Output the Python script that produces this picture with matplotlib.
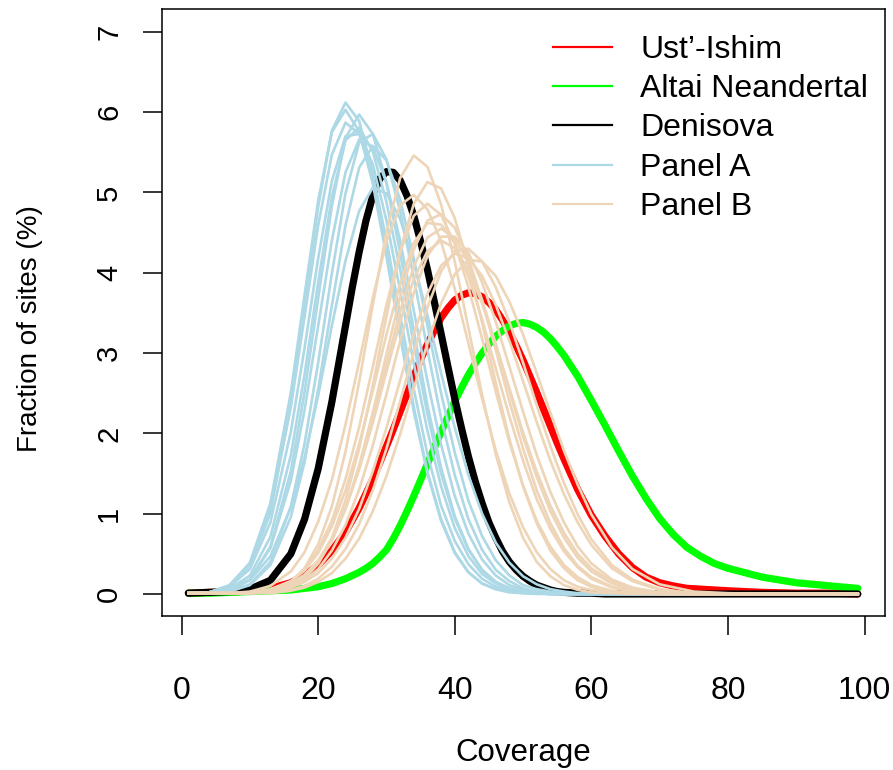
import matplotlib.pyplot as plt

# coverage values at which the panel distributions are tabulated
coverage = [1, 4, 7, 10, 13, 16, 18, 20, 22, 24, 26, 28, 30, 32, 34, 36, 38, 40, 42,
            44, 46, 48, 50, 52, 54, 56, 58, 60, 63, 66, 70, 75, 80, 85, 90, 95, 99]
# finer grid for the three single-genome curves
cov_main = [1, 4, 7, 10, 13, 16, 18, 20, 22,
            24, 25, 26, 27, 28, 29, 30, 31, 32, 33, 34, 35, 36, 37, 38, 39, 40,
            41, 42, 43, 44, 45, 46, 47, 48, 49, 50, 51, 52, 53, 54, 55, 56,
            58, 60, 62, 64, 66, 68, 70, 72, 74, 76, 78, 80,
            85, 90, 95, 99]

# fraction of sites (%) at each coverage
ust_ishim = [0.01, 0.02, 0.02, 0.04, 0.07, 0.14, 0.23, 0.36, 0.54,
             0.77, 0.92, 1.07, 1.25, 1.43, 1.63, 1.84, 2.05, 2.27, 2.49, 2.71, 2.92, 3.11,
             3.28, 3.44, 3.56, 3.66, 3.72, 3.75, 3.74, 3.70, 3.63, 3.54, 3.41, 3.26, 3.09,
             2.91, 2.71, 2.51, 2.30, 2.09, 1.88, 1.68,
             1.30, 0.98, 0.72, 0.50, 0.33, 0.21, 0.14, 0.10, 0.07, 0.06, 0.05, 0.04,
             0.02, 0.01, 0.01, 0.00]
altai = [0.01, 0.01, 0.02, 0.03, 0.04, 0.05, 0.07, 0.09, 0.13,
         0.19, 0.23, 0.27, 0.32, 0.38, 0.46, 0.55, 0.69, 0.85, 1.03, 1.22, 1.42, 1.62,
         1.82, 2.02, 2.21, 2.40, 2.57, 2.73, 2.87, 3.00, 3.11, 3.21, 3.28, 3.34, 3.37,
         3.38, 3.36, 3.32, 3.26, 3.18, 3.08, 2.97,
         2.71, 2.41, 2.10, 1.78, 1.47, 1.19, 0.94, 0.74, 0.58, 0.47, 0.38, 0.32,
         0.21, 0.14, 0.10, 0.07]
denisova = [0.01, 0.02, 0.03, 0.06, 0.17, 0.50, 0.93, 1.56, 2.39,
            3.34, 3.82, 4.26, 4.65, 4.96, 5.17, 5.26, 5.25, 5.15, 4.96, 4.71, 4.39, 4.04,
            3.64, 3.24, 2.83, 2.43, 2.06, 1.71, 1.40, 1.13, 0.89, 0.70, 0.53, 0.40, 0.30,
            0.22, 0.16, 0.11, 0.08, 0.05, 0.03, 0.02,
            0.01, 0.01, 0.00, 0.00, 0.00, 0.00, 0.00, 0.00, 0.00, 0.00, 0.00, 0.00,
            0.00, 0.00, 0.00, 0.00]

panel_a = [
    [0.01, 0.02, 0.08, 0.33, 1.01, 2.36, 3.59, 4.82, 5.77, 6.12, 5.89, 5.24, 4.33, 3.31, 2.33, 1.52, 0.93, 0.52, 0.27,
     0.13, 0.06, 0.02, 0.01, 0.01, 0, 0, 0, 0, 0, 0, 0, 0, 0, 0, 0, 0, 0],
    [0.01, 0.02, 0.10, 0.39, 1.13, 2.51, 3.72, 4.90, 5.75, 6.03, 5.76, 5.11, 4.20, 3.21, 2.27, 1.50, 0.91, 0.51, 0.27,
     0.13, 0.06, 0.03, 0.01, 0, 0, 0, 0, 0, 0, 0, 0, 0, 0, 0, 0, 0, 0],
    [0.01, 0.01, 0.04, 0.18, 0.59, 1.53, 2.51, 3.68, 4.83, 5.68, 5.97, 5.73, 5.12, 4.25, 3.28, 2.35, 1.57, 0.97, 0.56,
     0.30, 0.15, 0.07, 0.03, 0.01, 0, 0, 0, 0, 0, 0, 0, 0, 0, 0, 0, 0, 0],
    [0.01, 0.02, 0.11, 0.38, 1.06, 2.33, 3.45, 4.59, 5.47, 5.87, 5.73, 5.21, 4.41, 3.47, 2.55, 1.74, 1.10, 0.66, 0.37,
     0.19, 0.09, 0.04, 0.02, 0.01, 0, 0, 0, 0, 0, 0, 0, 0, 0, 0, 0, 0, 0],
    [0.01, 0.01, 0.06, 0.23, 0.71, 1.73, 2.73, 3.88, 4.94, 5.65, 5.81, 5.51, 4.88, 4.04, 3.11, 2.24, 1.50, 0.94, 0.55,
     0.30, 0.15, 0.07, 0.03, 0.01, 0, 0, 0, 0, 0, 0, 0, 0, 0, 0, 0, 0, 0],
    [0.01, 0.01, 0.03, 0.12, 0.40, 1.09, 1.87, 2.88, 3.99, 4.99, 5.62, 5.73, 5.41, 4.77, 3.94, 3.04, 2.19, 1.48, 0.93,
     0.55, 0.30, 0.16, 0.07, 0.03, 0.01, 0, 0, 0, 0, 0, 0, 0, 0, 0, 0, 0, 0],
    [0.01, 0.01, 0.05, 0.18, 0.57, 1.41, 2.29, 3.34, 4.40, 5.25, 5.66, 5.57, 5.12, 4.40, 3.53, 2.65, 1.86, 1.22, 0.75,
     0.43, 0.23, 0.11, 0.05, 0.02, 0.01, 0, 0, 0, 0, 0, 0, 0, 0, 0, 0, 0, 0],
    [0.01, 0.01, 0.03, 0.11, 0.36, 0.96, 1.64, 2.55, 3.59, 4.59, 5.31, 5.58, 5.40, 4.91, 4.18, 3.34, 2.50, 1.76, 1.16,
     0.72, 0.42, 0.23, 0.11, 0.06, 0.03, 0.01, 0, 0, 0, 0, 0, 0, 0, 0, 0, 0, 0],
    [0.01, 0.02, 0.09, 0.31, 0.89, 2.02, 3.06, 4.18, 5.14, 5.70, 5.73, 5.35, 4.65, 3.78, 2.87, 2.03, 1.34, 0.82, 0.47,
     0.25, 0.13, 0.06, 0.02, 0.01, 0, 0, 0, 0, 0, 0, 0, 0, 0, 0, 0, 0, 0],
    [0.01, 0.01, 0.05, 0.17, 0.47, 1.08, 1.70, 2.47, 3.34, 4.15, 4.77, 5.06, 4.99, 4.67, 4.13, 3.47, 2.75, 2.07, 1.48,
     1.00, 0.64, 0.39, 0.22, 0.12, 0.06, 0.03, 0.01, 0, 0, 0, 0, 0, 0, 0, 0, 0, 0],
]

panel_b = [
    [0.01, 0.01, 0.01, 0.01, 0.04, 0.15, 0.32, 0.62, 1.09, 1.77, 2.64, 3.60, 4.51, 5.18, 5.46, 5.32, 4.85, 4.14, 3.31,
     2.48, 1.74, 1.14, 0.70, 0.40, 0.22, 0.11, 0.05, 0.02, 0.01, 0, 0, 0, 0, 0, 0, 0, 0],
    [0.01, 0.01, 0.01, 0.01, 0.03, 0.09, 0.19, 0.38, 0.70, 1.17, 1.81, 2.60, 3.46, 4.27, 4.86, 5.13, 5.05, 4.68, 4.09,
     3.38, 2.63, 1.93, 1.34, 0.88, 0.54, 0.32, 0.17, 0.09, 0.03, 0.01, 0, 0, 0, 0, 0, 0, 0],
    [0.01, 0.01, 0.01, 0.03, 0.10, 0.28, 0.52, 0.90, 1.42, 2.11, 2.89, 3.69, 4.39, 4.84, 4.97, 4.79, 4.39, 3.80, 3.12,
     2.43, 1.79, 1.25, 0.83, 0.52, 0.31, 0.17, 0.09, 0.05, 0.02, 0.01, 0, 0, 0, 0, 0, 0, 0],
    [0.01, 0.01, 0.01, 0.01, 0.05, 0.16, 0.30, 0.55, 0.91, 1.43, 2.08, 2.83, 3.60, 4.26, 4.71, 4.86, 4.72, 4.36, 3.82,
     3.18, 2.52, 1.89, 1.35, 0.91, 0.59, 0.36, 0.21, 0.11, 0.04, 0.01, 0, 0, 0, 0, 0, 0, 0],
    [0.01, 0.01, 0.01, 0.01, 0.03, 0.11, 0.21, 0.38, 0.66, 1.06, 1.60, 2.26, 2.99, 3.70, 4.29, 4.65, 4.73, 4.56, 4.18,
     3.65, 3.04, 2.40, 1.81, 1.29, 0.88, 0.57, 0.35, 0.21, 0.09, 0.03, 0.01, 0, 0, 0, 0, 0, 0],
    [0.01, 0.01, 0.01, 0.02, 0.06, 0.16, 0.29, 0.51, 0.84, 1.29, 1.87, 2.53, 3.23, 3.87, 4.37, 4.62, 4.60, 4.37, 3.95,
     3.42, 2.81, 2.21, 1.66, 1.18, 0.81, 0.53, 0.33, 0.19, 0.08, 0.03, 0.01, 0, 0, 0, 0, 0, 0],
    [0.01, 0.01, 0.01, 0.01, 0.04, 0.12, 0.23, 0.41, 0.68, 1.07, 1.57, 2.19, 2.86, 3.52, 4.08, 4.44, 4.55, 4.43, 4.12,
     3.66, 3.11, 2.53, 1.96, 1.46, 1.03, 0.70, 0.45, 0.28, 0.13, 0.05, 0.01, 0, 0, 0, 0, 0, 0],
    [0.01, 0.01, 0.01, 0.01, 0.03, 0.09, 0.17, 0.31, 0.54, 0.86, 1.30, 1.85, 2.49, 3.15, 3.75, 4.21, 4.45, 4.45, 4.25,
     3.88, 3.39, 2.83, 2.27, 1.73, 1.27, 0.89, 0.59, 0.38, 0.18, 0.08, 0.02, 0.01, 0, 0, 0, 0, 0],
    [0.01, 0.01, 0.01, 0.01, 0.02, 0.05, 0.10, 0.19, 0.34, 0.56, 0.87, 1.29, 1.81, 2.40, 3.01, 3.57, 4.02, 4.27, 4.30,
     4.14, 3.82, 3.39, 2.88, 2.35, 1.84, 1.38, 0.99, 0.68, 0.36, 0.18, 0.06, 0.01, 0, 0, 0, 0, 0],
    [0.01, 0.01, 0.01, 0.01, 0.03, 0.08, 0.15, 0.26, 0.44, 0.70, 1.06, 1.53, 2.07, 2.66, 3.24, 3.74, 4.09, 4.24, 4.18,
     3.96, 3.60, 3.15, 2.65, 2.14, 1.66, 1.24, 0.89, 0.61, 0.32, 0.16, 0.05, 0.01, 0, 0, 0, 0, 0],
    [0.01, 0.01, 0.01, 0.01, 0.01, 0.04, 0.08, 0.15, 0.26, 0.44, 0.69, 1.03, 1.47, 1.99, 2.56, 3.12, 3.62, 3.98, 4.16,
     4.14, 3.96, 3.64, 3.23, 2.75, 2.26, 1.78, 1.36, 0.99, 0.58, 0.31, 0.12, 0.03, 0.01, 0, 0, 0, 0],
    [0.01, 0.01, 0.01, 0.01, 0.05, 0.13, 0.24, 0.42, 0.69, 1.06, 1.55, 2.13, 2.77, 3.39, 3.92, 4.27, 4.40, 4.31, 4.03,
     3.62, 3.11, 2.56, 2.01, 1.52, 1.10, 0.76, 0.50, 0.32, 0.15, 0.06, 0.02, 0, 0, 0, 0, 0, 0],
]

plt.rcParams['font.family'] = ['Liberation Sans', 'DejaVu Sans']

fig = plt.figure(figsize=(8.93, 7.70), dpi=100)
ax = fig.add_axes([0.181, 0.1994, 0.8095, 0.7884])

thick = dict(lw=5.2, solid_capstyle='round', solid_joinstyle='round')
ax.plot(cov_main, ust_ishim, color='#FF0000', **thick)
ax.plot(cov_main, altai, color='#00FF00', **thick)
ax.plot(cov_main, denisova, color='black', **thick)
for y in panel_a:
    ax.plot(coverage, y, color='#ADD8E6', lw=1.9, solid_joinstyle='round')
for y in panel_b:
    ax.plot(coverage, y, color='#EED5B7', lw=1.9, solid_joinstyle='round')

ax.set_xlim(-2.92, 102.92)
ax.set_ylim(-0.28, 7.28)
ax.set_xticks([0, 20, 40, 60, 80, 100])
ax.set_yticks(range(8))
ax.tick_params(direction='out', length=13.7, width=1.1)
ax.tick_params(axis='x', pad=29, labelsize=23)
ax.tick_params(axis='y', pad=14, labelsize=21, labelrotation=90)
for lab in ax.get_yticklabels():
    lab.set_va('center')
for s in ax.spines.values():
    s.set_linewidth(1.1)

ax.set_xlabel('Coverage', fontsize=22.5)
ax.xaxis.set_label_coords(0.5, -0.225)
ax.xaxis.label.set_va('center')
ax.set_ylabel('Fraction of sites (%)', fontsize=20)
ax.yaxis.set_label_coords(-0.182, 0.475)
ax.yaxis.label.set_va('center')

handles = [
    plt.Line2D([], [], color='#FF0000', lw=1.6),
    plt.Line2D([], [], color='#00FF00', lw=1.6),
    plt.Line2D([], [], color='black', lw=1.6),
    plt.Line2D([], [], color='#ADD8E6', lw=1.6),
    plt.Line2D([], [], color='#EED5B7', lw=1.6),
]
labels = ["Ust\u2019-Ishim", 'Altai Neandertal', 'Denisova', 'Panel A', 'Panel B']
ax.legend(handles, labels, loc='upper left', bbox_to_anchor=(0.5414, 0.958), frameon=False,
          fontsize=23, handlelength=1.85, handletextpad=0.88, labelspacing=0.29,
          borderpad=0, borderaxespad=0)

fig.savefig('out.png', dpi=100)
